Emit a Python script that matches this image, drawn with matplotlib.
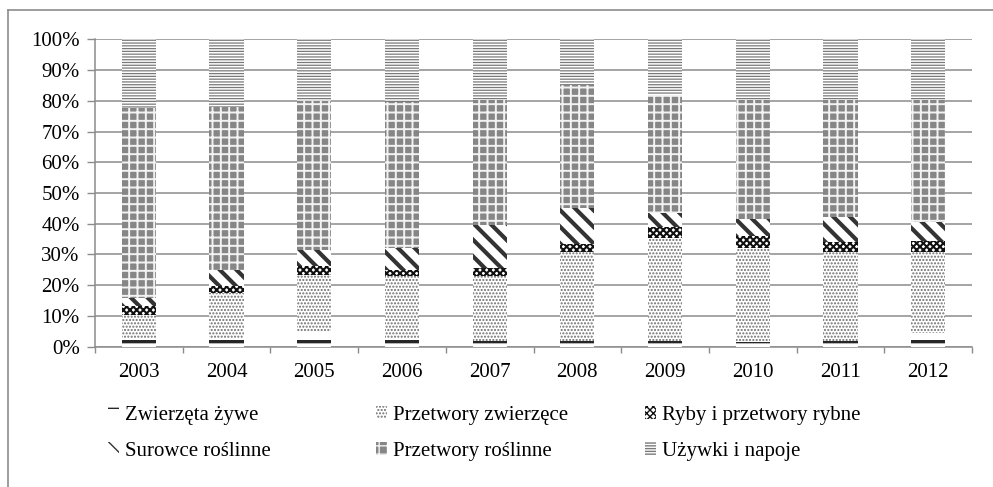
import matplotlib
matplotlib.use("Agg")
import matplotlib.pyplot as plt
from matplotlib.lines import Line2D
import numpy as np

years = ["2003", "2004", "2005", "2006", "2007", "2008", "2009", "2010", "2011", "2012"]
series_names = ["Zwierzęta żywe", "Przetwory zwierzęce", "Ryby i przetwory rybne",
                "Surowce roślinne", "Przetwory roślinne", "Używki i napoje"]
zwierzeta = [2.5, 2.5, 5.0, 2.5, 2.0, 2.0, 2.0, 1.5, 2.0, 4.5]
przetwory_zw = [7.9, 14.9, 18.4, 20.4, 21.0, 28.7, 33.5, 30.5, 28.7, 26.2]
ryby = [2.7, 2.2, 2.7, 2.1, 2.5, 2.7, 3.3, 3.9, 3.5, 3.8]
surowce = [2.7, 5.4, 5.4, 7.0, 14.1, 11.6, 4.6, 5.6, 8.1, 6.2]
przetwory_rosl = [61.9, 53.0, 48.5, 47.7, 40.6, 40.0, 38.5, 38.7, 37.9, 39.5]
uzywki = [22.3, 22.0, 20.0, 20.3, 19.8, 15.0, 18.1, 19.8, 19.8, 19.8]
y_ticklabels = ["0%", "10%", "20%", "30%", "40%", "50%", "60%", "70%", "80%", "90%", "100%"]

series = [zwierzeta, przetwory_zw, ryby, surowce, przetwory_rosl, uzywki]
# (facecolor, hatch color, hatch, hatch linewidth)
styles = [
    ("white", "#262626", "-", 2.4),
    ("white", "#6e6e6e", ".....", 1.0),
    ("white", "#111111", "xxxxx", 1.5),
    ("white", "#333333", "\\\\", 3.0),
    ("#868686", "#f2f2f2", "++", 1.4),
    ("white", "#7a7a7a", "------", 0.9),
]

plt.rcParams['font.family'] = ['Liberation Serif', 'DejaVu Serif']
fs = 15

fig = plt.figure(figsize=(9.93, 4.87), dpi=100)
ax = fig.add_axes([95/993, 1 - 346.7/487, (972-95)/993, (346.7-39.3)/487])

x = np.arange(len(years))
bottom = np.zeros(len(years))
handles = []
for vals, name, (fc, hc, h, hlw) in zip(series, series_names, styles):
    with plt.rc_context({'hatch.linewidth': hlw}):
        bars = ax.bar(x, vals, width=0.39, bottom=bottom, facecolor=fc, edgecolor=hc,
                      hatch=h, linewidth=0, zorder=3, label=name)
        for p in bars:
            if hasattr(p, "set_hatch_linewidth"):
                p.set_hatch_linewidth(hlw)
    handles.append(bars)
    bottom = bottom + np.array(vals)

ax.set_xlim(-0.5, len(years) - 0.5)
ax.set_ylim(0, 100)
ax.set_yticks(np.arange(0, 101, 10))
ax.set_yticklabels(y_ticklabels, fontsize=fs)
ax.set_xticks(x)
ax.set_xticklabels(years, fontsize=fs)
ax.set_xticks(np.arange(-0.5, len(years)), minor=True)
ax.tick_params(axis='x', which='major', length=0, pad=12)
ax.tick_params(axis='x', which='minor', length=4, width=1, color='#8c8c8c')
ax.tick_params(axis='y', which='major', length=6, width=1, color='#8c8c8c', pad=5)
ax.grid(axis='y', color='#8c8c8c', linewidth=1.1, zorder=0)
ax.set_axisbelow(True)
for s in ['top', 'right']:
    ax.spines[s].set_visible(False)
for s in ['left', 'bottom']:
    ax.spines[s].set_color('#8c8c8c')
    ax.spines[s].set_linewidth(1.1)

# legend: three columns of equal width, two rows
columns = [[0, 3], [1, 4], [2, 5]]
col_x = [108, 376, 645]
for cx, idxs in zip(col_x, columns):
    leg = fig.legend([handles[i] for i in idxs], [series_names[i] for i in idxs],
                     ncol=1, loc='upper left', bbox_to_anchor=(cx/993, 1 - 406/487),
                     frameon=False, fontsize=fs, handlelength=0.55, handleheight=0.55,
                     handletextpad=0.25, labelspacing=0.8, borderpad=0,
                     borderaxespad=0)

# outer chart frame (only top and left edges are visible)
x0 = 8/993
y0 = 1 - 10/487
fig.add_artist(Line2D([x0, x0], [0, y0], color='#8c8c8c', linewidth=1.2, transform=fig.transFigure))
fig.add_artist(Line2D([x0, 1], [y0, y0], color='#8c8c8c', linewidth=1.2, transform=fig.transFigure))

fig.savefig("out.png", dpi=100)
